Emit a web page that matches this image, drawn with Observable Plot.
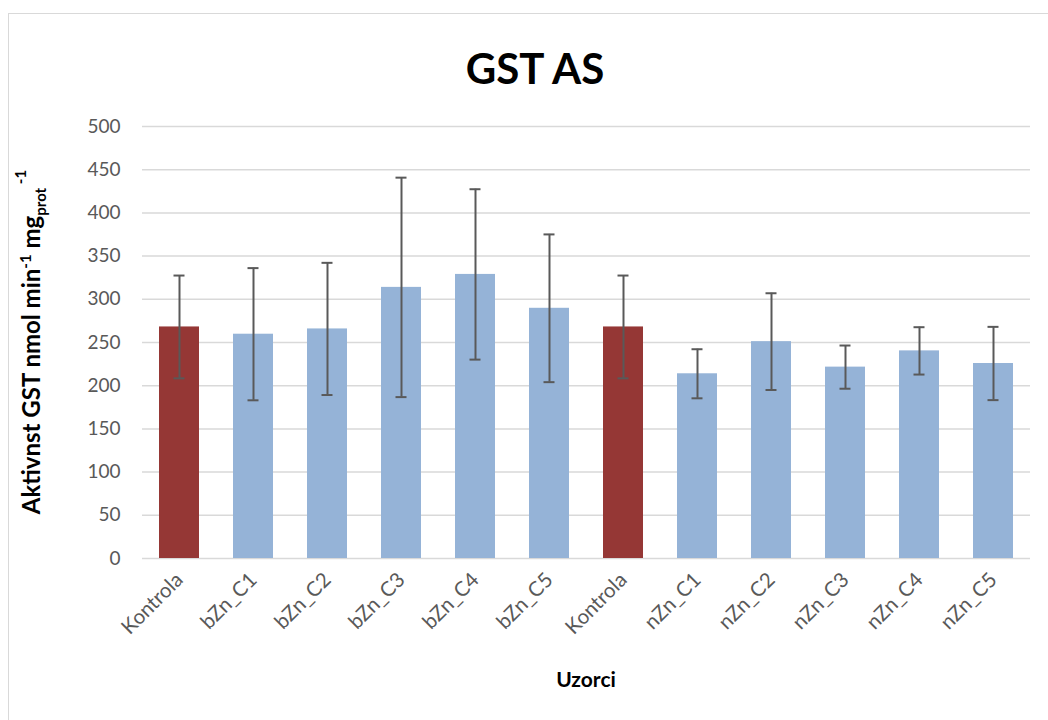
<!DOCTYPE html>
<html>
<head>
<meta charset="utf-8">
<script src="https://cdn.jsdelivr.net/npm/d3@7"></script>
<script src="https://cdn.jsdelivr.net/npm/@observablehq/plot@0.6"></script>
<style>
  html, body { margin: 0; padding: 0; background: #fff; }
  #wrap { position: relative; width: 1048px; height: 720px; overflow: hidden; background: #fff; }
  #frame { position: absolute; left: 8px; top: 13px; width: 1100px; height: 800px; border: 1.5px solid #d9d9d9; box-sizing: border-box; }
  #title { position: relative; height: 100px; width: 1070px; text-align: center; font-family: Lato, "Open Sans", sans-serif; font-weight: 700; font-size: 42px; line-height: 100px; color: #000; padding-top: 18px; box-sizing: border-box; }
  #chart { position: relative; }
</style>
</head>
<body>
<div id="wrap">
  <div id="frame"></div>
  <div id="title">GST AS</div>
  <div id="chart"></div>
</div>
<script>
// Data
const samples = ["Kontrola_b", "bZn_C1", "bZn_C2", "bZn_C3", "bZn_C4", "bZn_C5",
                 "Kontrola_n", "nZn_C1", "nZn_C2", "nZn_C3", "nZn_C4", "nZn_C5"];
const tickLabels = ["Kontrola", "bZn_C1", "bZn_C2", "bZn_C3", "bZn_C4", "bZn_C5",
                    "Kontrola", "nZn_C1", "nZn_C2", "nZn_C3", "nZn_C4", "nZn_C5"];
const groups = ["Kontrola", "Tretman", "Tretman", "Tretman", "Tretman", "Tretman",
                "Kontrola", "Tretman", "Tretman", "Tretman", "Tretman", "Tretman"];
const means = [268, 259.6, 265.7, 313.8, 328.8, 289.6, 268, 213.8, 251, 221.5, 240.3, 225.7];
const errors = [59.5, 76.5, 76.5, 127, 98.6, 85.5, 59.5, 28.4, 56, 25, 27.4, 42.4];
const yTicks = [0, 50, 100, 150, 200, 250, 300, 350, 400, 450, 500];

const data = samples.map((s, i) => ({
  sample: s,
  label: tickLabels[i],
  group: groups[i],
  mean: means[i],
  lo: means[i] - errors[i],
  hi: means[i] + errors[i]
}));
const labelOf = new Map(samples.map((s, i) => [s, tickLabels[i]]));

const chart = Plot.plot({
  width: 1048,
  height: 620,
  marginTop: 26,
  marginBottom: 162,
  marginLeft: 142,
  marginRight: 18,
  style: { fontFamily: "Lato, 'Open Sans', sans-serif", fontSize: "19px", color: "#595959", background: "transparent" },
  x: { domain: samples, paddingInner: 0.46, paddingOuter: 0.23, label: null },
  y: { domain: [0, 500], label: null },
  color: { domain: ["Kontrola", "Tretman"], range: ["#953735", "#95b3d7"] },
  marks: [
    Plot.gridY(yTicks, { stroke: "#d9d9d9", strokeOpacity: 1, strokeWidth: 1.5 }),
    Plot.axisY(yTicks, { tickSize: 0, tickPadding: 22, label: null, fontSize: 19 }),
    Plot.axisX({ tickFormat: d => labelOf.get(d), tickSize: 0, tickRotate: -45, tickPadding: 18, label: null, fontSize: 20.5 }),
    Plot.barY(data, { x: "sample", y: "mean", fill: "group" }),
    Plot.ruleX(data, { x: "sample", y1: "lo", y2: "hi", stroke: "#595959", strokeWidth: 2 }),
    Plot.tickY(data, { x: "sample", y: "lo", stroke: "#595959", strokeWidth: 2, inset: 14.5 }),
    Plot.tickY(data, { x: "sample", y: "hi", stroke: "#595959", strokeWidth: 2, inset: 14.5 })
  ]
});

document.getElementById("chart").appendChild(chart);

const svg = d3.select(chart);
// x axis title
svg.append("text")
  .attr("x", 586).attr("y", 587)
  .attr("text-anchor", "middle")
  .attr("fill", "#000")
  .style("font-family", "Lato, 'Open Sans', sans-serif")
  .style("font-weight", "700").style("font-size", "21px")
  .text("Uzorci");

// y axis title with super/subscripts
const yl = svg.append("text")
  .attr("transform", "translate(40,242) rotate(-90)")
  .attr("text-anchor", "middle")
  .attr("fill", "#000")
  .style("font-family", "Lato, 'Open Sans', sans-serif")
  .style("font-weight", "700").style("font-size", "24px");
yl.append("tspan").text("Aktivnst GST nmol min");
yl.append("tspan").attr("dy", -9).style("font-size", "15px").text("-1");
yl.append("tspan").attr("dy", 9).text(" mg");
yl.append("tspan").attr("dy", 6).style("font-size", "15px").text("prot");
yl.append("tspan").attr("dy", -20).style("font-size", "15px").text(" -1");
</script>
</body>
</html>
